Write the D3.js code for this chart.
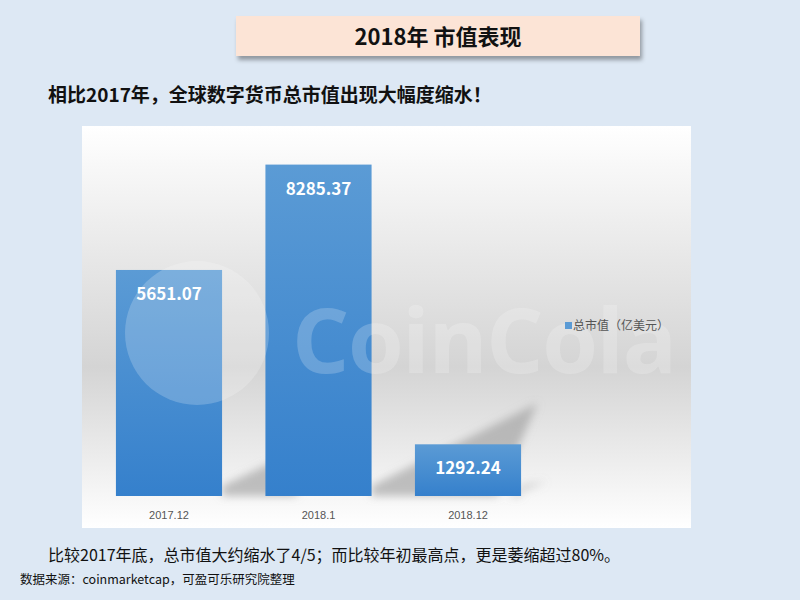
<!DOCTYPE html>
<html><head><meta charset="utf-8">
<script src="https://cdn.jsdelivr.net/npm/d3@7"></script>
<style>body{margin:0;background:#dde8f4;}svg{display:block;font-family:"Noto Sans CJK SC","Microsoft YaHei",sans-serif;}</style>
</head><body><svg id="c" width="800" height="600"></svg>
<script>
const categories = ["2017.12", "2018.1", "2018.12"];
const values = [5651.07, 8285.37, 1292.24];
const labels = ["5651.07", "8285.37", "1292.24"];
const seriesName = "总市值（亿美元）";

const svg = d3.select("#c");
const defs = svg.append("defs");
const bg = defs.append("linearGradient").attr("id","bg").attr("x1",0).attr("y1",0).attr("x2",0).attr("y2",1);
bg.append("stop").attr("offset","0").attr("stop-color","#ffffff");
bg.append("stop").attr("offset","0.6").attr("stop-color","#d4d4d4");
bg.append("stop").attr("offset","1").attr("stop-color","#ffffff");
const bar = defs.append("linearGradient").attr("id","bar").attr("x1",0).attr("y1",0).attr("x2",0).attr("y2",1);
bar.append("stop").attr("offset","0").attr("stop-color","#5b9bd5");
bar.append("stop").attr("offset","1").attr("stop-color","#3580cc");
const sh = defs.append("filter").attr("id","sh").attr("x","-10%").attr("y","-10%").attr("width","130%").attr("height","150%");
sh.append("feDropShadow").attr("dx",2).attr("dy",4).attr("stdDeviation",2).attr("flood-color","#000").attr("flood-opacity",0.35);
const blur = defs.append("filter").attr("id","blur");
blur.append("feGaussianBlur").attr("stdDeviation",4);
defs.append("clipPath").attr("id","pc").append("rect").attr("x",82).attr("y",126).attr("width",609).attr("height",402);

svg.append("rect").attr("x",236).attr("y",16).attr("width",404).attr("height",40).attr("fill","#fce4d6").attr("filter","url(#sh)");
svg.append("text").attr("x",438).attr("y",45).attr("text-anchor","middle").attr("font-size",22).attr("font-weight","bold").attr("fill","#111").text("2018年 市值表现");
svg.append("text").attr("x",48).attr("y",102).attr("font-size",19).attr("font-weight","bold").attr("fill","#111").text("相比2017年，全球数字货币总市值出现大幅度缩水！");

svg.append("rect").attr("x",82).attr("y",126).attr("width",609).attr("height",402).attr("fill","url(#bg)");

const x = d3.scaleBand().domain(categories).range([92,545]).paddingInner(0.29).paddingOuter(0.16);
const y = d3.scaleLinear().domain([0,9000]).range([496,136]);

svg.append("g").attr("filter","url(#blur)").selectAll("path").data(categories).join("path")
  .attr("d",(c,i)=>{const x0=x(c)+x.bandwidth(), yt=y(values[i]), h=496-yt, dx=h*0.5, dy=h*0.28;
     return `M${x0},${496} L${x0},${496-10} L${x0+dx},${496-dy} L${x0+dx-40},${496} Z`;})
  .attr("fill","#999").attr("opacity",0.6);

svg.append("g").selectAll("rect").data(categories).join("rect")
  .attr("x",c=>x(c)).attr("width",x.bandwidth())
  .attr("y",(c,i)=>y(values[i])).attr("height",(c,i)=>496-y(values[i]))
  .attr("fill","url(#bar)");

const wm = svg.append("g").attr("clip-path","url(#pc)").attr("fill","#fff").attr("opacity",0.2);
wm.append("circle").attr("cx",197).attr("cy",333).attr("r",72);
wm.append("text").attr("x",292).attr("y",373).attr("font-size",90).attr("textLength",385).attr("font-family","Open Sans, sans-serif").attr("font-weight","bold").text("CoinCola");

svg.append("g").selectAll("text").data(categories).join("text")
  .attr("x",c=>x(c)+x.bandwidth()/2).attr("y",(c,i)=>y(values[i])+30)
  .attr("text-anchor","middle").attr("font-size",17).attr("font-weight","bold").attr("fill","#fff")
  .text((c,i)=>labels[i]);

const ax = svg.append("g").attr("transform","translate(0,496)").call(d3.axisBottom(x).tickSize(0).tickPadding(15));
ax.select(".domain").remove();
ax.selectAll("text").attr("font-size",11).attr("fill","#555").attr("font-family","Liberation Sans, sans-serif");

svg.append("rect").attr("x",565).attr("y",322).attr("width",7).attr("height",7).attr("fill","#5b9bd5");
svg.append("text").attr("x",573).attr("y",330).attr("font-size",12).attr("fill","#555").text(seriesName);

svg.append("text").attr("x",48).attr("y",561).attr("font-size",16).attr("fill","#111").text("比较2017年底，总市值大约缩水了4/5；而比较年初最高点，更是萎缩超过80%。");
svg.append("text").attr("x",20).attr("y",584).attr("font-size",12.5).attr("fill","#111").text("数据来源：coinmarketcap，可盈可乐研究院整理");
</script></body></html>
